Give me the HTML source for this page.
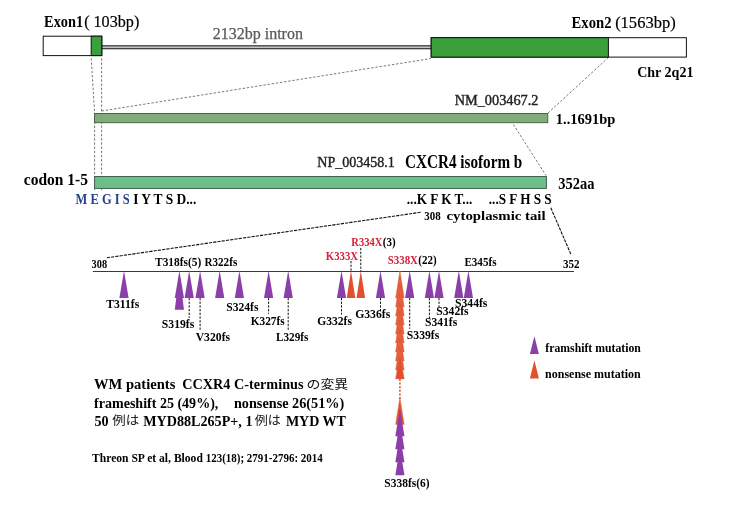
<!DOCTYPE html>
<html lang="ja">
<head>
<meta charset="utf-8">
<title>CXCR4 C-terminus mutations</title>
<style>
html,body{margin:0;padding:0;background:#fff;}
body{width:732px;height:507px;overflow:hidden;}
svg{display:block;}
</style>
</head>
<body>
<svg width="732" height="507" viewBox="0 0 732 507">
<rect x="0" y="0" width="732" height="507" fill="#ffffff"/>
<rect x="101.5" y="45.8" width="330" height="2.9" fill="#c4c4c4" stroke="#333" stroke-width="1.2"/>
<rect x="43.2" y="36.2" width="58.6" height="19.4" fill="#ffffff" stroke="#111" stroke-width="1"/>
<rect x="91.2" y="36.2" width="10.6" height="19.4" fill="#3aa03c" stroke="#111" stroke-width="1"/>
<rect x="431.2" y="37.7" width="255.2" height="19.4" fill="#ffffff" stroke="#111" stroke-width="1"/>
<rect x="431.2" y="37.7" width="177.2" height="19.4" fill="#3aa03c" stroke="#111" stroke-width="1"/>
<line x1="91.2" y1="58.3" x2="94.6" y2="113.0" stroke="#4a4a4a" stroke-width="0.75" stroke-dasharray="2.4 1.8"/>
<line x1="94.6" y1="113.0" x2="94.6" y2="190.0" stroke="#4a4a4a" stroke-width="0.75" stroke-dasharray="2.4 1.8"/>
<line x1="101.6" y1="58.3" x2="101.6" y2="190.0" stroke="#4a4a4a" stroke-width="0.75" stroke-dasharray="2.4 1.8"/>
<line x1="101.6" y1="111.0" x2="431.0" y2="58.5" stroke="#4a4a4a" stroke-width="0.75" stroke-dasharray="2.4 1.8"/>
<line x1="548.0" y1="113.0" x2="608.4" y2="57.5" stroke="#4a4a4a" stroke-width="0.75" stroke-dasharray="2.4 1.8"/>
<line x1="513.4" y1="124.5" x2="546.0" y2="175.5" stroke="#4a4a4a" stroke-width="0.75" stroke-dasharray="2.4 1.8"/>
<rect x="94.6" y="113.5" width="453.2" height="9.2" fill="#7ea877" fill-opacity="0.97" stroke="#3f5a3c" stroke-width="0.9"/>
<rect x="94.6" y="176.5" width="451.8" height="11.9" fill="#69bd88" fill-opacity="0.98" stroke="#3a5545" stroke-width="0.9"/>
<text id="t0" x="44.05" y="27.3" font-size="16.8" font-weight="bold" fill="#000" font-family='"Liberation Serif", "Noto Serif CJK SC", serif' textLength="39.11" lengthAdjust="spacingAndGlyphs">Exon1</text>
<text id="t1" x="84.14" y="27.3" font-size="16.8" font-weight="normal" fill="#000" stroke="#000" stroke-width="0.2" font-family='"Liberation Serif", "Noto Serif CJK SC", serif' textLength="55.17" lengthAdjust="spacingAndGlyphs">( 103bp)</text>
<text id="t2" x="212.70" y="39.2" font-size="16" font-weight="normal" fill="#595959" stroke="#595959" stroke-width="0.25" font-family='"Liberation Serif", "Noto Serif CJK SC", serif' textLength="90.25" lengthAdjust="spacingAndGlyphs">2132bp intron</text>
<text id="t3" x="571.55" y="28.2" font-size="16.8" font-weight="bold" fill="#000" font-family='"Liberation Serif", "Noto Serif CJK SC", serif' textLength="39.96" lengthAdjust="spacingAndGlyphs">Exon2</text>
<text id="t4" x="615.14" y="28.2" font-size="16.8" font-weight="normal" fill="#000" stroke="#000" stroke-width="0.2" font-family='"Liberation Serif", "Noto Serif CJK SC", serif' textLength="60.52" lengthAdjust="spacingAndGlyphs">(1563bp)</text>
<text id="t5" x="637.18" y="76.8" font-size="15.5" font-weight="bold" fill="#000" font-family='"Liberation Serif", "Noto Serif CJK SC", serif' textLength="56.28" lengthAdjust="spacingAndGlyphs">Chr 2q21</text>
<text id="t6" x="454.70" y="105.2" font-size="14.3" font-weight="normal" fill="#222" stroke="#222" stroke-width="0.4" font-family='"Liberation Serif", "Noto Serif CJK SC", serif' textLength="83.81" lengthAdjust="spacingAndGlyphs">NM_003467.2</text>
<text id="t7" x="555.82" y="123.6" font-size="13.6" font-weight="bold" fill="#000" font-family='"Liberation Serif", "Noto Serif CJK SC", serif' textLength="59.50" lengthAdjust="spacingAndGlyphs">1..1691bp</text>
<text id="t8" x="317.35" y="166.7" font-size="14.3" font-weight="normal" fill="#222" stroke="#222" stroke-width="0.4" font-family='"Liberation Serif", "Noto Serif CJK SC", serif' textLength="77.51" lengthAdjust="spacingAndGlyphs">NP_003458.1</text>
<text id="t9" x="405.04" y="167.7" font-size="17.8" font-weight="bold" fill="#000" font-family='"Liberation Serif", "Noto Serif CJK SC", serif' textLength="117.26" lengthAdjust="spacingAndGlyphs">CXCR4 isoform b</text>
<text id="t10" x="23.79" y="184.5" font-size="17.2" font-weight="bold" fill="#000" font-family='"Liberation Serif", "Noto Serif CJK SC", serif' textLength="64.22" lengthAdjust="spacingAndGlyphs">codon 1-5</text>
<text id="t11" x="558.34" y="188.5" font-size="17.6" font-weight="bold" fill="#000" font-family='"Liberation Serif", "Noto Serif CJK SC", serif' textLength="36.26" lengthAdjust="spacingAndGlyphs">352aa</text>
<text id="t12" x="75.55" y="203.7" font-size="14.4" font-weight="bold" fill="#27418c" font-family='"Liberation Serif", "Noto Serif CJK SC", serif' textLength="54.11" lengthAdjust="spacingAndGlyphs">M E G I S</text>
<text id="t13" x="133.14" y="203.7" font-size="14.4" font-weight="bold" fill="#000" font-family='"Liberation Serif", "Noto Serif CJK SC", serif' textLength="63.17" lengthAdjust="spacingAndGlyphs">I Y T S D...</text>
<text id="t14" x="406.79" y="203.7" font-size="14.6" font-weight="bold" fill="#000" font-family='"Liberation Serif", "Noto Serif CJK SC", serif' textLength="65.52" lengthAdjust="spacingAndGlyphs">...K F K T...</text>
<text id="t15" x="488.79" y="203.7" font-size="14.6" font-weight="bold" fill="#000" font-family='"Liberation Serif", "Noto Serif CJK SC", serif' textLength="62.92" lengthAdjust="spacingAndGlyphs">...S F H S S</text>
<text id="t16" x="424.24" y="219.8" font-size="12.0" font-weight="bold" fill="#000" font-family='"Liberation Serif", "Noto Serif CJK SC", serif' textLength="16.36" lengthAdjust="spacingAndGlyphs">308</text>
<text id="t17" x="446.50" y="219.5" font-size="12.3" font-weight="bold" fill="#000" font-family='"Liberation Serif", "Noto Serif CJK SC", serif' textLength="99.10" lengthAdjust="spacingAndGlyphs">cytoplasmic tail</text>
<line x1="420.6" y1="212.3" x2="106.0" y2="257.9" stroke="#111" stroke-width="1.1" stroke-dasharray="3.2 1.1"/>
<line x1="550.8" y1="207.8" x2="571.2" y2="255.0" stroke="#111" stroke-width="1.1" stroke-dasharray="3.2 1.1"/>
<line x1="92.9" y1="271.5" x2="574" y2="271.5" stroke="#223b6c" stroke-width="1.1"/>
<text id="t18" x="91.59" y="267.8" font-size="11.6" font-weight="bold" fill="#000" font-family='"Liberation Serif", "Noto Serif CJK SC", serif' textLength="15.53" lengthAdjust="spacingAndGlyphs">308</text>
<text id="t19" x="155.05" y="266.4" font-size="12.3" font-weight="bold" fill="#000" font-family='"Liberation Serif", "Noto Serif CJK SC", serif' textLength="46.15" lengthAdjust="spacingAndGlyphs">T318fs(5)</text>
<text id="t20" x="204.40" y="266.4" font-size="12.3" font-weight="bold" fill="#000" font-family='"Liberation Serif", "Noto Serif CJK SC", serif' textLength="32.86" lengthAdjust="spacingAndGlyphs">R322fs</text>
<text id="t21" x="106.20" y="307.6" font-size="12.3" font-weight="bold" fill="#000" font-family='"Liberation Serif", "Noto Serif CJK SC", serif' textLength="33.06" lengthAdjust="spacingAndGlyphs">T311fs</text>
<text id="t22" x="161.83" y="328.3" font-size="12.3" font-weight="bold" fill="#000" font-family='"Liberation Serif", "Noto Serif CJK SC", serif' textLength="32.42" lengthAdjust="spacingAndGlyphs">S319fs</text>
<text id="t23" x="195.65" y="341.1" font-size="12.3" font-weight="bold" fill="#000" font-family='"Liberation Serif", "Noto Serif CJK SC", serif' textLength="34.45" lengthAdjust="spacingAndGlyphs">V320fs</text>
<text id="t24" x="226.19" y="311.1" font-size="12.3" font-weight="bold" fill="#000" font-family='"Liberation Serif", "Noto Serif CJK SC", serif' textLength="32.27" lengthAdjust="spacingAndGlyphs">S324fs</text>
<text id="t25" x="250.70" y="324.9" font-size="12.3" font-weight="bold" fill="#000" font-family='"Liberation Serif", "Noto Serif CJK SC", serif' textLength="34.05" lengthAdjust="spacingAndGlyphs">K327fs</text>
<text id="t26" x="275.90" y="341.1" font-size="12.3" font-weight="bold" fill="#000" font-family='"Liberation Serif", "Noto Serif CJK SC", serif' textLength="32.51" lengthAdjust="spacingAndGlyphs">L329fs</text>
<text id="t27" x="317.29" y="324.9" font-size="12.3" font-weight="bold" fill="#000" font-family='"Liberation Serif", "Noto Serif CJK SC", serif' textLength="34.62" lengthAdjust="spacingAndGlyphs">G332fs</text>
<text id="t28" x="355.14" y="318.3" font-size="12.3" font-weight="bold" fill="#000" font-family='"Liberation Serif", "Noto Serif CJK SC", serif' textLength="35.11" lengthAdjust="spacingAndGlyphs">G336fs</text>
<text id="t29" x="325.75" y="259.7" font-size="12.3" font-weight="bold" fill="#d4203a" font-family='"Liberation Serif", "Noto Serif CJK SC", serif' textLength="32.40" lengthAdjust="spacingAndGlyphs">K333X</text>
<text id="t30" x="351.35" y="245.6" font-size="12.3" font-weight="bold" fill="#d4203a" font-family='"Liberation Serif", "Noto Serif CJK SC", serif' textLength="30.95" lengthAdjust="spacingAndGlyphs">R334X</text>
<text id="t31" x="382.72" y="245.6" font-size="12.3" font-weight="bold" fill="#000" font-family='"Liberation Serif", "Noto Serif CJK SC", serif' textLength="12.86" lengthAdjust="spacingAndGlyphs">(3)</text>
<text id="t32" x="387.79" y="263.6" font-size="12.3" font-weight="bold" fill="#d4203a" font-family='"Liberation Serif", "Noto Serif CJK SC", serif' textLength="30.16" lengthAdjust="spacingAndGlyphs">S338X</text>
<text id="t33" x="418.29" y="263.6" font-size="12.3" font-weight="bold" fill="#000" font-family='"Liberation Serif", "Noto Serif CJK SC", serif' textLength="18.28" lengthAdjust="spacingAndGlyphs">(22)</text>
<text id="t34" x="464.40" y="265.9" font-size="12.3" font-weight="bold" fill="#000" font-family='"Liberation Serif", "Noto Serif CJK SC", serif' textLength="32.06" lengthAdjust="spacingAndGlyphs">E345fs</text>
<text id="t35" x="562.92" y="267.6" font-size="11.6" font-weight="bold" fill="#000" font-family='"Liberation Serif", "Noto Serif CJK SC", serif' textLength="16.61" lengthAdjust="spacingAndGlyphs">352</text>
<text id="t36" x="454.99" y="306.5" font-size="12.3" font-weight="bold" fill="#000" font-family='"Liberation Serif", "Noto Serif CJK SC", serif' textLength="32.42" lengthAdjust="spacingAndGlyphs">S344fs</text>
<text id="t37" x="436.34" y="315.0" font-size="12.3" font-weight="bold" fill="#000" font-family='"Liberation Serif", "Noto Serif CJK SC", serif' textLength="32.27" lengthAdjust="spacingAndGlyphs">S342fs</text>
<text id="t38" x="424.99" y="326.1" font-size="12.3" font-weight="bold" fill="#000" font-family='"Liberation Serif", "Noto Serif CJK SC", serif' textLength="32.27" lengthAdjust="spacingAndGlyphs">S341fs</text>
<text id="t39" x="406.84" y="339.0" font-size="12.3" font-weight="bold" fill="#000" font-family='"Liberation Serif", "Noto Serif CJK SC", serif' textLength="32.47" lengthAdjust="spacingAndGlyphs">S339fs</text>
<text id="t40" x="384.34" y="486.8" font-size="12.3" font-weight="bold" fill="#000" font-family='"Liberation Serif", "Noto Serif CJK SC", serif' textLength="45.22" lengthAdjust="spacingAndGlyphs">S338fs(6)</text>
<line x1="189.2" y1="297.9" x2="189.2" y2="318.0" stroke="#111" stroke-width="1.0" stroke-dasharray="2.3 1.4"/>
<line x1="200.1" y1="297.9" x2="200.1" y2="330.0" stroke="#111" stroke-width="1.0" stroke-dasharray="2.3 1.4"/>
<line x1="268.6" y1="297.9" x2="268.6" y2="313.8" stroke="#111" stroke-width="1.0" stroke-dasharray="2.3 1.4"/>
<line x1="288.2" y1="297.9" x2="288.2" y2="330.0" stroke="#111" stroke-width="1.0" stroke-dasharray="2.3 1.4"/>
<line x1="341.5" y1="297.9" x2="341.5" y2="314.5" stroke="#111" stroke-width="1.0" stroke-dasharray="2.3 1.4"/>
<line x1="380.5" y1="297.9" x2="380.5" y2="310.5" stroke="#111" stroke-width="1.0" stroke-dasharray="2.3 1.4"/>
<line x1="351.0" y1="261.0" x2="351.0" y2="271.5" stroke="#111" stroke-width="1.0" stroke-dasharray="2.3 1.4"/>
<line x1="360.8" y1="248.0" x2="360.8" y2="271.5" stroke="#111" stroke-width="1.0" stroke-dasharray="2.3 1.4"/>
<line x1="409.7" y1="297.9" x2="409.7" y2="328.8" stroke="#111" stroke-width="1.0" stroke-dasharray="2.3 1.4"/>
<line x1="429.4" y1="297.9" x2="429.4" y2="320.5" stroke="#111" stroke-width="1.0" stroke-dasharray="2.3 1.4"/>
<line x1="439.0" y1="297.9" x2="439.0" y2="307.5" stroke="#111" stroke-width="1.0" stroke-dasharray="2.3 1.4"/>
<polygon points="124.0,270.7 128.6,297.9 119.4,297.9" fill="#8b3fa8"/>
<polygon points="189.2,270.7 193.8,297.9 184.6,297.9" fill="#8b3fa8"/>
<polygon points="200.1,270.7 204.7,297.9 195.5,297.9" fill="#8b3fa8"/>
<polygon points="219.7,270.7 224.3,297.9 215.1,297.9" fill="#8b3fa8"/>
<polygon points="239.4,270.7 244.0,297.9 234.8,297.9" fill="#8b3fa8"/>
<polygon points="268.6,270.7 273.2,297.9 264.0,297.9" fill="#8b3fa8"/>
<polygon points="288.2,270.7 292.8,297.9 283.6,297.9" fill="#8b3fa8"/>
<polygon points="341.5,270.7 346.1,297.9 336.9,297.9" fill="#8b3fa8"/>
<polygon points="380.5,270.7 385.1,297.9 375.9,297.9" fill="#8b3fa8"/>
<polygon points="409.7,270.7 414.3,297.9 405.1,297.9" fill="#8b3fa8"/>
<polygon points="429.4,270.7 434.0,297.9 424.8,297.9" fill="#8b3fa8"/>
<polygon points="439.0,270.7 443.6,297.9 434.4,297.9" fill="#8b3fa8"/>
<polygon points="458.8,270.7 463.4,297.9 454.2,297.9" fill="#8b3fa8"/>
<polygon points="468.4,270.7 473.0,297.9 463.8,297.9" fill="#8b3fa8"/>
<polygon points="179.4,272.7 184.0,309.7 174.8,309.7" fill="#8b3fa8"/>
<polygon points="179.4,270.7 184.0,297.9 174.8,297.9" fill="#8b3fa8"/>
<polygon points="351.0,270.7 355.3,297.9 346.7,297.9" fill="#e0502f"/>
<polygon points="360.8,270.7 365.1,297.9 356.5,297.9" fill="#e0502f"/>
<line x1="399.9" y1="379" x2="399.9" y2="399" stroke="#e0502f" stroke-width="1.6" stroke-dasharray="2 1.6"/>
<polygon points="399.9,270.7 404.2,297.9 395.6,297.9" fill="#e0502f" stroke="#e9785a" stroke-width="0.5"/>
<polygon points="399.9,279.7 404.2,306.9 395.6,306.9" fill="#e0502f" stroke="#e9785a" stroke-width="0.5"/>
<polygon points="399.9,288.7 404.2,315.9 395.6,315.9" fill="#e0502f" stroke="#e9785a" stroke-width="0.5"/>
<polygon points="399.9,297.7 404.2,324.9 395.6,324.9" fill="#e0502f" stroke="#e9785a" stroke-width="0.5"/>
<polygon points="399.9,306.7 404.2,333.9 395.6,333.9" fill="#e0502f" stroke="#e9785a" stroke-width="0.5"/>
<polygon points="399.9,315.7 404.2,342.9 395.6,342.9" fill="#e0502f" stroke="#e9785a" stroke-width="0.5"/>
<polygon points="399.9,324.7 404.2,351.9 395.6,351.9" fill="#e0502f" stroke="#e9785a" stroke-width="0.5"/>
<polygon points="399.9,333.7 404.2,360.9 395.6,360.9" fill="#e0502f" stroke="#e9785a" stroke-width="0.5"/>
<polygon points="399.9,342.7 404.2,369.9 395.6,369.9" fill="#e0502f" stroke="#e9785a" stroke-width="0.5"/>
<polygon points="399.9,351.7 404.2,378.9 395.6,378.9" fill="#e0502f" stroke="#e9785a" stroke-width="0.5"/>
<polygon points="399.9,397.2 404.2,424.4 395.6,424.4" fill="#e0502f" stroke="#e9785a" stroke-width="0.5"/>
<polygon points="399.9,409.0 404.5,436.2 395.3,436.2" fill="#8b3fa8"/>
<polygon points="399.9,422.0 404.5,449.2 395.3,449.2" fill="#8b3fa8"/>
<polygon points="399.9,435.0 404.5,462.2 395.3,462.2" fill="#8b3fa8"/>
<polygon points="399.9,448.0 404.5,475.2 395.3,475.2" fill="#8b3fa8"/>
<polygon points="534.4,336.2 538.9,354.0 529.9,354.0" fill="#8b3fa8"/>
<polygon points="534.4,360.2 538.9,378.6 529.9,378.6" fill="#e0502f"/>
<text id="t41" x="545.35" y="351.9" font-size="12.3" font-weight="bold" fill="#000" font-family='"Liberation Serif", "Noto Serif CJK SC", serif' textLength="95.45" lengthAdjust="spacingAndGlyphs">framshift mutation</text>
<text id="t42" x="545.10" y="378.4" font-size="12.3" font-weight="bold" fill="#000" font-family='"Liberation Serif", "Noto Serif CJK SC", serif' textLength="95.70" lengthAdjust="spacingAndGlyphs">nonsense mutation</text>
<text id="t43" x="94.05" y="389.1" font-size="14.8" font-weight="bold" fill="#000" font-family='"Liberation Serif", "Noto Serif CJK SC", serif' textLength="81.30" lengthAdjust="spacingAndGlyphs">WM patients</text>
<text id="t44" x="182.35" y="389.1" font-size="14.8" font-weight="bold" fill="#000" font-family='"Liberation Serif", "Noto Serif CJK SC", serif' textLength="121.11" lengthAdjust="spacingAndGlyphs">CCXR4 C-terminus</text>
<text id="t45" x="306.50" y="388.8" font-size="12.0" font-weight="normal" fill="#111" font-family='"Liberation Sans", "Noto Sans CJK JP", sans-serif' textLength="41.79" lengthAdjust="spacingAndGlyphs">の変異</text>
<text id="t46" x="94.05" y="407.7" font-size="14.8" font-weight="bold" fill="#000" font-family='"Liberation Serif", "Noto Serif CJK SC", serif' textLength="124.30" lengthAdjust="spacingAndGlyphs">frameshift 25 (49%),</text>
<text id="t47" x="233.90" y="407.7" font-size="14.8" font-weight="bold" fill="#000" font-family='"Liberation Serif", "Noto Serif CJK SC", serif' textLength="110.41" lengthAdjust="spacingAndGlyphs">nonsense 26(51%)</text>
<text id="t48" x="94.47" y="425.7" font-size="14.8" font-weight="bold" fill="#000" font-family='"Liberation Serif", "Noto Serif CJK SC", serif' textLength="14.12" lengthAdjust="spacingAndGlyphs">50</text>
<text id="t49" x="112.19" y="425.4" font-size="12.0" font-weight="normal" fill="#111" font-family='"Liberation Sans", "Noto Sans CJK JP", sans-serif' textLength="26.93" lengthAdjust="spacingAndGlyphs">例は</text>
<text id="t50" x="143.20" y="425.7" font-size="14.8" font-weight="bold" fill="#000" font-family='"Liberation Serif", "Noto Serif CJK SC", serif' textLength="109.26" lengthAdjust="spacingAndGlyphs">MYD88L265P+, 1</text>
<text id="t51" x="254.74" y="425.4" font-size="12.0" font-weight="normal" fill="#111" font-family='"Liberation Sans", "Noto Sans CJK JP", sans-serif' textLength="26.08" lengthAdjust="spacingAndGlyphs">例は</text>
<text id="t52" x="285.90" y="425.7" font-size="14.8" font-weight="bold" fill="#000" font-family='"Liberation Serif", "Noto Serif CJK SC", serif' textLength="60.05" lengthAdjust="spacingAndGlyphs">MYD WT</text>
<text id="t53" x="92.05" y="461.7" font-size="11.9" font-weight="bold" fill="#000" font-family='"Liberation Serif", "Noto Serif CJK SC", serif' textLength="110.80" lengthAdjust="spacingAndGlyphs">Threon SP et al, Blood</text>
<text id="t54" x="205.74" y="461.7" font-size="11.9" font-weight="bold" fill="#000" font-family='"Liberation Serif", "Noto Serif CJK SC", serif' textLength="117.01" lengthAdjust="spacingAndGlyphs">123(18); 2791-2796: 2014</text>
</svg>
</body>
</html>
